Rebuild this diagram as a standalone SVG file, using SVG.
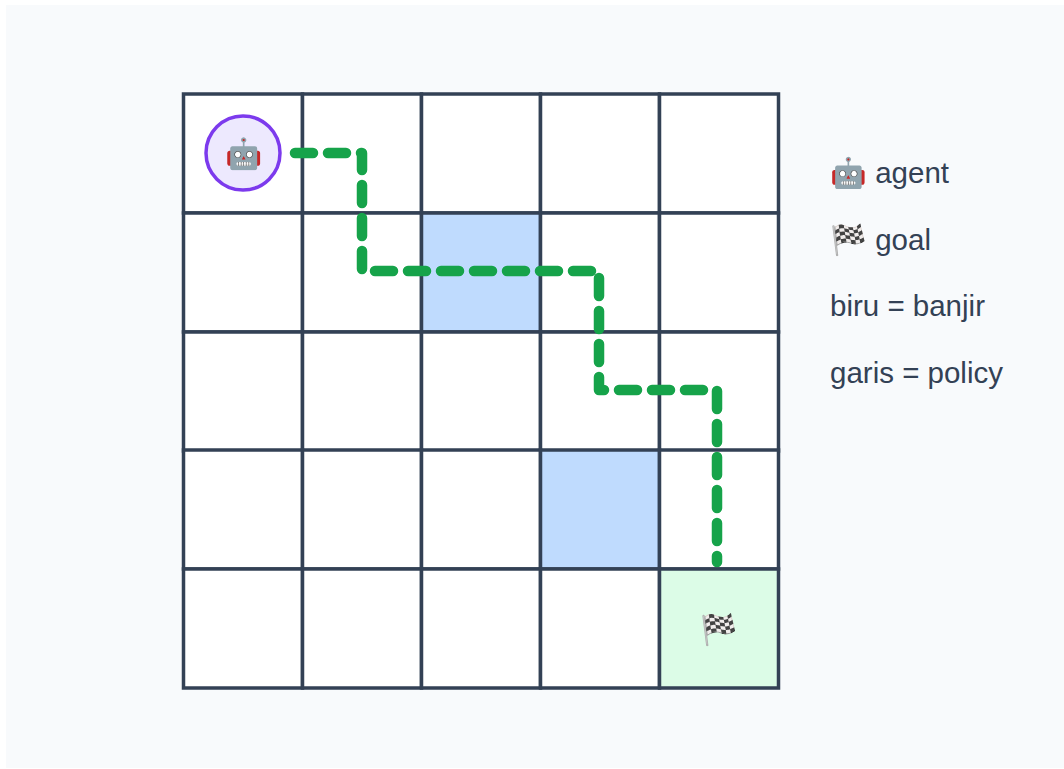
<svg xmlns="http://www.w3.org/2000/svg" width="1064" height="769" viewBox="0 0 1064 769">
<style>
.cell{fill:#ffffff;stroke:#334155;stroke-width:3.5}
.flood{fill:#bfdbfe}
.goal{fill:#dcfce7}
.lbl{font-family:"Liberation Sans",Arial,sans-serif;font-size:29.5px;fill:#334155}
.icon{font-family:"Liberation Sans",Arial,sans-serif;font-size:30px;fill:#334155;text-anchor:middle;dominant-baseline:central}
</style>
<rect x="6" y="5" width="1058" height="763" fill="#f8fafc"/>
<g id="grid">
<rect class="cell" x="183.5" y="94" width="119" height="119"/>
<rect class="cell" x="302.5" y="94" width="119" height="119"/>
<rect class="cell" x="421.5" y="94" width="119" height="119"/>
<rect class="cell" x="540.5" y="94" width="119" height="119"/>
<rect class="cell" x="659.5" y="94" width="119" height="119"/>
<rect class="cell" x="183.5" y="213" width="119" height="119"/>
<rect class="cell" x="302.5" y="213" width="119" height="119"/>
<rect class="cell flood" x="421.5" y="213" width="119" height="119"/>
<rect class="cell" x="540.5" y="213" width="119" height="119"/>
<rect class="cell" x="659.5" y="213" width="119" height="119"/>
<rect class="cell" x="183.5" y="332" width="119" height="119"/>
<rect class="cell" x="302.5" y="332" width="119" height="119"/>
<rect class="cell" x="421.5" y="332" width="119" height="119"/>
<rect class="cell" x="540.5" y="332" width="119" height="119"/>
<rect class="cell" x="659.5" y="332" width="119" height="119"/>
<rect class="cell" x="183.5" y="450" width="119" height="119"/>
<rect class="cell" x="302.5" y="450" width="119" height="119"/>
<rect class="cell" x="421.5" y="450" width="119" height="119"/>
<rect class="cell flood" x="540.5" y="450" width="119" height="119"/>
<rect class="cell" x="659.5" y="450" width="119" height="119"/>
<rect class="cell" x="183.5" y="569" width="119" height="119"/>
<rect class="cell" x="302.5" y="569" width="119" height="119"/>
<rect class="cell" x="421.5" y="569" width="119" height="119"/>
<rect class="cell" x="540.5" y="569" width="119" height="119"/>
</g>
<g id="connectors">
<path d="M295,153 H362 V271 H599 V390 H717 V562" fill="none" stroke="#16a34a" stroke-width="10.5" stroke-linecap="round" stroke-linejoin="round" stroke-dasharray="18 15"/>
</g>
<g id="goal">
<rect class="cell goal" x="659.5" y="569" width="119" height="119"/>
<text class="icon" x="718" y="629">🏁</text>
</g>
<g id="agent">
<circle cx="243" cy="153" r="37" fill="#ede9fe" stroke="#7c3aed" stroke-width="3.5"/>
<text class="icon" x="243" y="153">🤖</text>
</g>
<g id="legend">
<text class="lbl" x="830" y="183">🤖 agent</text>
<text class="lbl" x="830" y="250">🏁 goal</text>
<text class="lbl" x="830" y="316">biru = banjir</text>
<text class="lbl" x="830" y="383">garis = policy</text>
</g>
</svg>
